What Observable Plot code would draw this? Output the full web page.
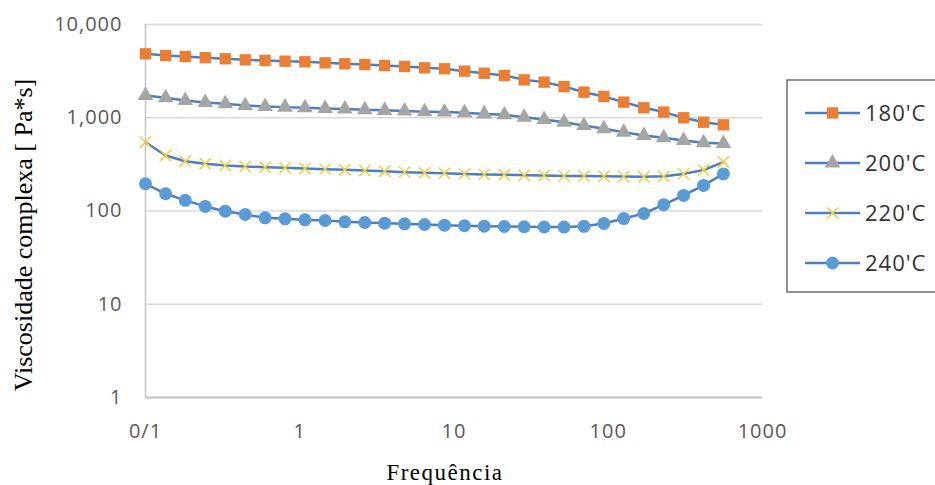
<!DOCTYPE html>
<html><head><meta charset="utf-8">
<script src="https://cdn.jsdelivr.net/npm/d3@7"></script>
<script src="https://cdn.jsdelivr.net/npm/@observablehq/plot@0.6"></script>
<style>
body{margin:0;background:#fff;}
#wrap{position:relative;width:935px;height:485px;overflow:hidden;background:#fff;}
#legend{position:absolute;left:786px;top:79px;width:149px;height:216px;overflow:hidden;}
g[aria-label="y-axis tick label"] text, g[aria-label="x-axis tick label"] text{letter-spacing:1px;}
</style></head><body><div id="wrap"><div id="legend"></div></div>
<script>
// Frequencies (x)
const freq = [0.1, 0.135, 0.181, 0.244, 0.329, 0.443, 0.596, 0.803, 1.08, 1.46, 1.96, 2.64, 3.55, 4.78, 6.44, 8.67, 11.7, 15.7, 21.2, 28.5, 38.4, 51.7, 69.6, 93.7, 126, 170, 229, 308, 415, 558];
// Complex viscosity series (Pa*s)
const visc180 = [4850, 4650, 4540, 4400, 4290, 4180, 4110, 4040, 3980, 3880, 3790, 3720, 3630, 3550, 3430, 3350, 3160, 3000, 2840, 2550, 2410, 2160, 1880, 1690, 1470, 1280, 1150, 1000, 896, 840];
const visc200 = [1730, 1640, 1530, 1460, 1410, 1350, 1320, 1300, 1280, 1260, 1240, 1220, 1200, 1180, 1160, 1150, 1130, 1100, 1075, 1015, 958, 896, 826, 761, 700, 645, 610, 570, 540, 530];
const visc220 = [547, 394, 342, 321, 307, 300, 295, 291, 286, 281, 277, 272, 267, 261, 257, 254, 250, 247, 245, 242, 240, 238, 237, 236, 234, 233, 236, 250, 275, 335];
const visc240 = [196, 153, 130, 112, 99.6, 91.7, 84.5, 82.4, 80.4, 79.1, 76.6, 75.3, 74, 72.9, 71.7, 70.4, 69.5, 68.8, 68.2, 67.8, 67.4, 67.2, 68.5, 73.5, 83, 94, 117, 147, 188, 250];
const seriesNames = ["180'C", "200'C", "220'C", "240'C"];
const xTicks = [0.1, 1, 10, 100, 1000];
const xTickLabels = ["0/1", "1", "10", "100", "1000"];
const yTicks = [1, 10, 100, 1000, 10000];
const yTickLabels = ["1", "10", "100", "1,000", "10,000"];
const xTitle = "Frequência";
const yTitle = "Viscosidade complexa [ Pa*s]";

const seriesValues = [visc180, visc200, visc220, visc240];
const lineColor = "#4a7fc4";
const styles = [
  {symbol: "square", fill: "#ED7D31", stroke: "none", r: 6.4, sw: 0},
  {symbol: "triangle", fill: "#A5A5A5", stroke: "none", r: 5.8, sw: 0},
  {symbol: "times", fill: "none", stroke: "#F2CF45", r: 5.2, sw: 1.6},
  {symbol: "circle", fill: "#5B9BD5", stroke: "none", r: 6.5, sw: 0}
];

const rows = seriesNames.flatMap((name, k) => freq.map((f, i) => ({series: name, freq: f, visc: seriesValues[k][i]})));

const seriesMarks = seriesNames.flatMap((name, k) => {
  const data = rows.filter(d => d.series === name);
  const s = styles[k];
  return [
    Plot.line(data, {x: "freq", y: "visc", stroke: lineColor, strokeWidth: 2.5}),
    Plot.dot(data, {x: "freq", y: "visc", symbol: () => s.symbol, r: s.r, fill: s.fill, stroke: s.stroke, strokeWidth: s.sw})
  ];
});

const chart = Plot.plot({
  width: 935, height: 485,
  marginLeft: 145, marginRight: 173, marginTop: 24, marginBottom: 88,
  style: {background: "#fff", fontFamily: "'Open Sans', sans-serif"},
  x: {type: "log", domain: [0.1, 1000]},
  y: {type: "log", domain: [1, 10000]},
  marks: [
    Plot.gridY(yTicks, {stroke: "#d9d9d9", strokeOpacity: 1, strokeWidth: 1.5}),
    Plot.ruleY([1], {stroke: "#c4c4c4", strokeWidth: 2}),
    Plot.ruleX([0.1], {stroke: "#c4c4c4", strokeWidth: 1.5}),
    Plot.axisY(yTicks, {tickFormat: d => yTickLabels[yTicks.indexOf(d)], tickSize: 0, tickPadding: 23, fontSize: 20, fill: "#595959", label: null}),
    Plot.axisX(xTicks, {tickFormat: d => xTickLabels[xTicks.indexOf(d)], tickSize: 0, tickPadding: 26, fontSize: 20, fill: "#595959", label: null}),
    Plot.text([yTitle], {text: d => d, frameAnchor: "left", rotate: -90, dx: -122, dy: 24, lineAnchor: "middle", textAnchor: "middle",
      fontFamily: "'Liberation Serif', serif", fontSize: 26, fill: "#000"}),
    Plot.text([xTitle], {text: d => d, frameAnchor: "bottom", dx: -9, dy: 75, lineAnchor: "middle", textAnchor: "middle",
      fontFamily: "'Liberation Serif', serif", fontSize: 23, fill: "#000", letterSpacing: 1.5}),
    ...seriesMarks
  ]
});
chart.querySelectorAll("text").forEach(t => { if (t.textContent === xTitle) t.style.letterSpacing = "1.5px"; });
document.getElementById("wrap").prepend(chart);

// Legend
const symMap = {square: d3.symbolSquare, triangle: d3.symbolTriangle, times: d3.symbolTimes, circle: d3.symbolCircle};
const lg = d3.select("#legend").append("svg").attr("width", 149).attr("height", 216);
lg.append("rect").attr("x", 1).attr("y", 1).attr("width", 200).attr("height", 212)
  .attr("fill", "#fff").attr("stroke", "#6f6f6f").attr("stroke-width", 1.5);
seriesNames.forEach((name, k) => {
  const y = 34 + 50 * k;
  const s = styles[k];
  lg.append("line").attr("x1", 19).attr("x2", 74).attr("y1", y).attr("y2", y).attr("stroke", lineColor).attr("stroke-width", 2.5);
  lg.append("path").attr("transform", `translate(46.5,${y})`)
    .attr("d", d3.symbol(symMap[s.symbol], Math.PI * s.r * s.r)())
    .attr("fill", s.fill).attr("stroke", s.stroke).attr("stroke-width", s.sw);
  lg.append("text").attr("x", 79).attr("y", y).attr("dy", "0.36em")
    .attr("font-family", "'Open Sans', sans-serif").attr("font-size", 22).attr("letter-spacing", "1px")
    .attr("fill", "#333").text(name);
});
</script></body></html>
